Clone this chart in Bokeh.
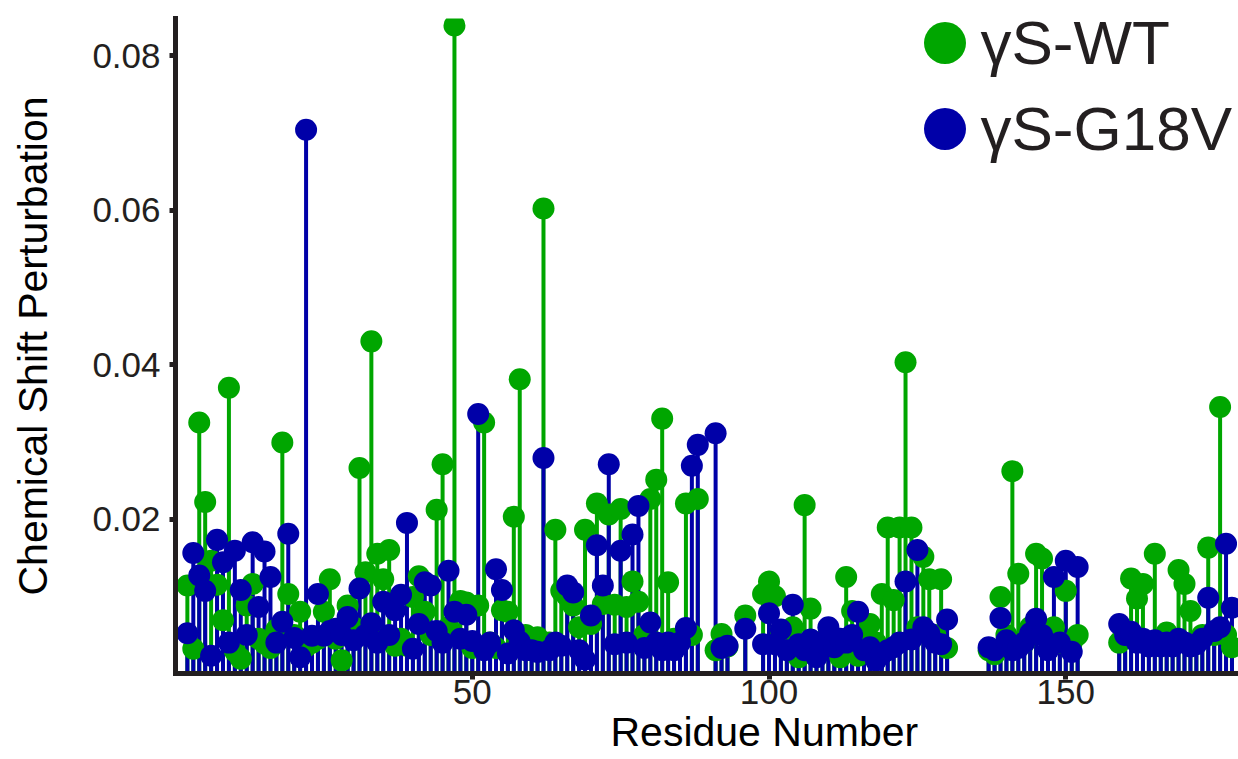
from bokeh.plotting import figure
from bokeh.models import (Range1d, FixedTicker, PrintfTickFormatter, Legend,
                          LegendItem, Title, Label, ColumnDataSource)
from bokeh.embed import file_html
from bokeh.resources import INLINE

# ---------------- data ----------------
wt_residue = [2, 3, 4, 5, 6, 7, 8, 9, 10, 11, 12, 13, 14, 15, 16, 17, 18, 19, 20,
              21, 22, 23, 24, 25, 26, 27, 28, 29, 30, 31, 32, 33, 34, 35, 36, 37,
              38, 39, 40, 41, 42, 43, 44, 45, 46, 47, 48, 49, 50, 51, 52, 53, 54,
              55, 56, 57, 58, 59, 60, 61, 62, 63, 64, 65, 66, 67, 68, 69, 70, 71,
              72, 73, 74, 75, 76, 77, 78, 79, 80, 81, 82, 83, 84, 85, 86, 87, 88,
              91, 92, 93, 96, 99, 100, 101, 102, 103, 104, 105, 106, 107, 108,
              109, 110, 111, 112, 113, 114, 115, 116, 117, 118, 119, 120, 121,
              122, 123, 124, 125, 126, 127, 128, 129, 130, 137, 138, 139, 140,
              141, 142, 143, 144, 145, 146, 147, 148, 149, 150, 151, 152, 159,
              160, 161, 162, 163, 164, 165, 166, 167, 168, 169, 170, 171, 172,
              173, 174, 175, 176, 177, 178]
wt_csp = [0.0114, 0.0032, 0.0325, 0.0222, 0.0146, 0.0115, 0.0069, 0.0370, 0.0029,
          0.0019, 0.0088, 0.0116, 0.0045, 0.0039, 0.0033, 0.0057, 0.0299, 0.0103,
          0.0050, 0.0080, 0.0035, 0.0040, 0.0045, 0.0080, 0.0122, 0.0045, 0.0017,
          0.0088, 0.0060, 0.0266, 0.0131, 0.0430, 0.0155, 0.0122, 0.0160, 0.0036,
          0.0045, 0.0036, 0.0099, 0.0126, 0.0080, 0.0050, 0.0212, 0.0271, 0.0060,
          0.0839, 0.0094, 0.0092, 0.0033, 0.0088, 0.0325, 0.0040, 0.0033, 0.0082,
          0.0080, 0.0203, 0.0381, 0.0050, 0.0040, 0.0047, 0.0602, 0.0040, 0.0186,
          0.0107, 0.0100, 0.0088, 0.0060, 0.0186, 0.0064, 0.0220, 0.0090, 0.0206,
          0.0089, 0.0213, 0.0086, 0.0119, 0.0093, 0.0050, 0.0226, 0.0251, 0.0330,
          0.0118, 0.0045, 0.0043, 0.0220, 0.0050, 0.0226,
          0.0030, 0.0051, 0.0035, 0.0075, 0.0103, 0.0119, 0.0100, 0.0055, 0.0040,
          0.0060, 0.0021, 0.0218, 0.0084, 0.0040, 0.0040, 0.0050, 0.0040, 0.0021,
          0.0125, 0.0081, 0.0023, 0.0040, 0.0064, 0.0040, 0.0103, 0.0189, 0.0095,
          0.0189, 0.0403, 0.0189, 0.0060, 0.0151, 0.0122, 0.0050, 0.0122, 0.0033,
          0.0030, 0.0025, 0.0099, 0.0050, 0.0262, 0.0129, 0.0040, 0.0060, 0.0155,
          0.0149, 0.0050, 0.0060, 0.0040, 0.0107, 0.0040, 0.0050,
          0.0040, 0.0050, 0.0123, 0.0097, 0.0116, 0.0040, 0.0155, 0.0040, 0.0053,
          0.0040, 0.0134, 0.0116, 0.0081, 0.0040, 0.0050, 0.0163, 0.0050, 0.0345,
          0.0050, 0.0034]

g18v_residue = list(wt_residue)
g18v_csp = [0.0052, 0.0156, 0.0127, 0.0107, 0.0023, 0.0173, 0.0144, 0.0040, 0.0159,
            0.0108, 0.0050, 0.0170, 0.0086, 0.0158, 0.0125, 0.0040, 0.0067, 0.0181,
            0.0046, 0.0021, 0.0704, 0.0049, 0.0103, 0.0049, 0.0055, 0.0058, 0.0050,
            0.0073, 0.0043, 0.0110, 0.0050, 0.0065, 0.0040, 0.0093, 0.0050, 0.0082,
            0.0102, 0.0195, 0.0032, 0.0064, 0.0118, 0.0114, 0.0055, 0.0040, 0.0133,
            0.0080, 0.0045, 0.0076, 0.0042, 0.0336, 0.0030, 0.0040, 0.0135, 0.0108,
            0.0026, 0.0056, 0.0041, 0.0030, 0.0030, 0.0028, 0.0279, 0.0030, 0.0040,
            0.0036, 0.0114, 0.0105, 0.0030, 0.0018, 0.0075, 0.0166, 0.0114, 0.0271,
            0.0038, 0.0159, 0.0040, 0.0180, 0.0217, 0.0033, 0.0066, 0.0040, 0.0030,
            0.0040, 0.0030, 0.0040, 0.0059, 0.0269, 0.0296,
            0.0311, 0.0033, 0.0036, 0.0058, 0.0038, 0.0078, 0.0038, 0.0057, 0.0030,
            0.0089, 0.0038, 0.0030, 0.0044, 0.0021, 0.0040, 0.0060, 0.0034, 0.0045,
            0.0040, 0.0050, 0.0080, 0.0030, 0.0034, 0.0017, 0.0025, 0.0030, 0.0034,
            0.0040, 0.0119, 0.0044, 0.0160, 0.0060, 0.0052, 0.0040, 0.0038, 0.0070,
            0.0034, 0.0030, 0.0072, 0.0043, 0.0030, 0.0033, 0.0040, 0.0052, 0.0071,
            0.0050, 0.0030, 0.0125, 0.0040, 0.0146, 0.0028, 0.0138,
            0.0064, 0.0050, 0.0054, 0.0040, 0.0045, 0.0035, 0.0043, 0.0035, 0.0040,
            0.0035, 0.0045, 0.0040, 0.0035, 0.0038, 0.0045, 0.0098, 0.0055, 0.0060,
            0.0168, 0.0085]

x_ticks = [50, 100, 150]
y_ticks = [0.02, 0.04, 0.06, 0.08]
series_labels = ["γS-WT", "γS-G18V"]
x_label = "Residue Number"
y_label = "Chemical Shift Perturbation"

# ---------------- style ----------------
GREEN = "#00A600"
BLUE = "#0000A8"
INK = "#231F20"
FONT = "Liberation Sans"

p = figure(width=1238, height=759,
           x_range=Range1d(0, 179.1), y_range=Range1d(0, 0.0848),
           output_backend="svg", toolbar_location=None,
           min_border_left=175, min_border_right=0,
           min_border_top=18, min_border_bottom=86)
p.grid.visible = False
p.outline_line_color = None
p.background_fill_color = "white"
p.border_fill_color = "white"

wt_src = ColumnDataSource(dict(x=wt_residue, y=wt_csp))
mu_src = ColumnDataSource(dict(x=g18v_residue, y=g18v_csp))

p.segment(x0="x", y0=0, x1="x", y1="y", source=wt_src,
          line_color=GREEN, line_width=4)
p.segment(x0="x", y0=0, x1="x", y1="y", source=mu_src,
          line_color=BLUE, line_width=4)
r_wt = p.scatter("x", "y", source=wt_src, size=22,
                 fill_color=GREEN, line_color=None)
r_mu = p.scatter("x", "y", source=mu_src, size=22,
                 fill_color=BLUE, line_color=None)

# legend: one marker legend per series (big dots), text as labels
for rend, loc in ((r_wt, (717, 578)), (r_mu, (717, 492))):
    lg = Legend(items=[LegendItem(label="", renderers=[rend])],
                location=loc, glyph_width=105, glyph_height=105,
                label_standoff=0, label_width=1, padding=0, margin=0,
                border_line_color=None, background_fill_alpha=0)
    p.add_layout(lg)

for txt, ly in ((series_labels[0], 631), (series_labels[1], 545)):
    p.add_layout(Label(x=805, y=ly, x_units="screen", y_units="screen",
                       text=txt, text_font=FONT, text_font_size="62px",
                       text_color=INK, text_align="left",
                       text_baseline="middle"))

p.xaxis.ticker = FixedTicker(ticks=x_ticks)
p.yaxis.ticker = FixedTicker(ticks=y_ticks)
p.yaxis.formatter = PrintfTickFormatter(format="%.2f")

for ax in (p.xaxis, p.yaxis):
    ax.axis_line_width = 5
    ax.axis_line_color = INK
    ax.axis_line_cap = "square"
    ax.major_tick_line_width = 5
    ax.major_tick_line_color = INK
    ax.major_tick_out = 6
    ax.major_tick_in = 0
    ax.minor_tick_line_color = None
    ax.major_label_text_font = FONT
    ax.major_label_text_font_size = "35px"
    ax.major_label_text_color = INK

p.xaxis.major_label_standoff = 0
p.yaxis.major_label_standoff = 9

p.yaxis.axis_label = y_label
p.yaxis.axis_label_text_font = FONT
p.yaxis.axis_label_text_font_size = "41px"
p.yaxis.axis_label_text_font_style = "normal"
p.yaxis.axis_label_text_color = "black"
p.yaxis.axis_label_standoff = 33

xt = Title(text=x_label, align="left", offset=435, text_font=FONT,
           text_font_size="41px", text_font_style="normal",
           text_color="black", standoff=4, vertical_align="top")
p.add_layout(xt, "below")

open("out.html", "w").write(file_html(p, INLINE))
